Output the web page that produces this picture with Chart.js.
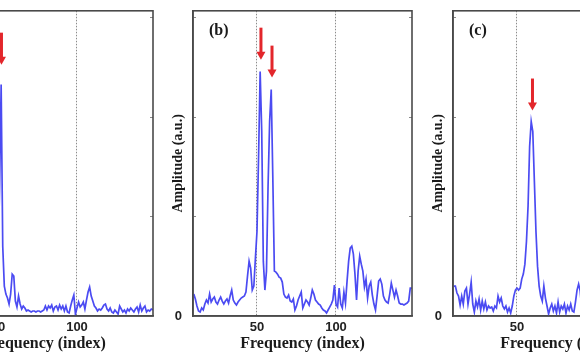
<!DOCTYPE html>
<html>
<head>
<meta charset="utf-8">
<script src="https://cdn.jsdelivr.net/npm/chart.js@4"></script>
<style>
  html, body { margin: 0; padding: 0; background: #fff; overflow: hidden; }
  #wrap { position: relative; width: 580px; height: 359px; overflow: hidden; background: #fff; }
  canvas { position: absolute; top: 0; }
</style>
</head>
<body>
<div id="wrap">
  <canvas id="chartA" width="260" height="359" style="left:-99px"></canvas>
  <canvas id="chartB" width="260" height="359" style="left:160px"></canvas>
  <canvas id="chartC" width="260" height="359" style="left:420px"></canvas>
</div>
<script>
// Spectrum bins 10..148 (frequency index), amplitude in arbitrary units.
const freqIndex = Array.from({ length: 139 }, (_, i) => i + 10);
const xTicks = [50, 100];
const yTicks = [0, 1, 2, 3];

const ampA = [
  0.12, 0.08, 0.10, 0.06, 0.09, 0.11, 0.07, 0.05, 0.08, 0.10,
  0.06, 0.09, 0.12, 0.07, 0.05, 0.08, 0.06, 0.10, 0.09, 0.05,
  0.07, 0.11, 0.08, 0.06, 0.09, 0.12, 0.08, 0.07, 0.10, 0.06,
  0.09, 0.13, 0.10, 0.12, 0.16, 0.14, 0.18, 0.22, 0.20, 0.30,
  0.50, 1.30, 2.32, 0.70, 0.30, 0.22, 0.18, 0.12, 0.22, 0.42,
  0.40, 0.15, 0.09, 0.20, 0.12, 0.07, 0.10, 0.08, 0.05, 0.06,
  0.05, 0.04, 0.05, 0.05, 0.04, 0.05, 0.05, 0.04, 0.05, 0.06,
  0.10, 0.06, 0.10, 0.08, 0.11, 0.05, 0.09, 0.10, 0.06, 0.11,
  0.07, 0.10, 0.05, 0.10, 0.04, 0.03, 0.10, 0.16, 0.21, 0.02,
  0.08, 0.14, 0.09, 0.11, 0.14, 0.07, 0.16, 0.24, 0.29, 0.20,
  0.15, 0.10, 0.08, 0.05, 0.07, 0.06, 0.08, 0.11, 0.12, 0.07,
  0.05, 0.08, 0.04, 0.03, 0.06, 0.04, 0.02, 0.10, 0.07, 0.04,
  0.06, 0.03, 0.07, 0.05, 0.08, 0.06, 0.04, 0.07, 0.09, 0.04,
  0.11, 0.05, 0.08, 0.10, 0.04, 0.06, 0.05, 0.07, 0.06
];
const ampB = [
  0.22, 0.17, 0.10, 0.05, 0.04, 0.08, 0.06, 0.12, 0.16, 0.13,
  0.22, 0.14, 0.17, 0.19, 0.14, 0.12, 0.16, 0.19, 0.15, 0.12,
  0.15, 0.17, 0.13, 0.20, 0.26, 0.16, 0.13, 0.11, 0.14, 0.16,
  0.18, 0.19, 0.20, 0.24, 0.40, 0.55, 0.48, 0.26, 0.30, 0.58,
  0.85, 1.60, 2.45, 1.85, 0.55, 0.26, 0.45, 1.30, 1.95, 2.27,
  1.40, 0.45, 0.44, 0.42, 0.39, 0.38, 0.34, 0.22, 0.19, 0.18,
  0.21, 0.15, 0.14, 0.17, 0.06, 0.10, 0.16, 0.20, 0.24, 0.08,
  0.12, 0.16, 0.14, 0.11, 0.18, 0.26, 0.22, 0.16, 0.14, 0.12,
  0.11, 0.08, 0.06, 0.05, 0.03, 0.06, 0.09, 0.12, 0.16, 0.31,
  0.12, 0.09, 0.28, 0.12, 0.08, 0.24, 0.13, 0.35, 0.55, 0.68,
  0.70, 0.62, 0.42, 0.16, 0.45, 0.60, 0.52, 0.45, 0.29, 0.37,
  0.18, 0.30, 0.34, 0.21, 0.12, 0.06, 0.20, 0.35, 0.37, 0.32,
  0.20, 0.16, 0.14, 0.13, 0.22, 0.33, 0.26, 0.19, 0.26, 0.20,
  0.13, 0.12, 0.12, 0.11, 0.12, 0.13, 0.15, 0.28, 0.28
];
const ampC = [
  0.30, 0.30, 0.23, 0.20, 0.11, 0.20, 0.12, 0.25, 0.28, 0.12,
  0.22, 0.34, 0.12, 0.04, 0.15, 0.09, 0.17, 0.06, 0.15, 0.07,
  0.14, 0.06, 0.10, 0.08, 0.09, 0.05, 0.10, 0.08, 0.20, 0.14,
  0.18, 0.10, 0.07, 0.10, 0.04, 0.08, 0.03, 0.10, 0.20, 0.26,
  0.28, 0.26, 0.28, 0.37, 0.42, 0.52, 0.75, 1.10, 1.70, 1.95,
  1.85, 1.35, 0.85, 0.50, 0.30, 0.20, 0.15, 0.30, 0.18, 0.10,
  0.02, 0.08, 0.12, 0.05, 0.10, 0.03, 0.14, 0.04, 0.10, 0.07,
  0.12, 0.03, 0.10, 0.06, 0.12, 0.05, 0.04, 0.14, 0.26, 0.32,
  0.25, 0.07, 0.11, 0.06, 0.10, 0.08, 0.05, 0.09, 0.12, 0.07,
  0.10, 0.06, 0.08, 0.11, 0.07, 0.09, 0.05, 0.08, 0.10, 0.06,
  0.09, 0.07, 0.05, 0.08, 0.11, 0.06, 0.08, 0.07, 0.10, 0.05,
  0.08, 0.06, 0.09, 0.07, 0.05, 0.08, 0.10, 0.06, 0.07, 0.09,
  0.05, 0.08, 0.06, 0.09, 0.07, 0.10, 0.06, 0.08, 0.05, 0.07,
  0.09, 0.06, 0.08, 0.07, 0.05, 0.08, 0.06, 0.09, 0.07
];

// Red markers: bin where each arrow sits, and the amplitude its tip points at.
const arrowsA = [52.2],       tipsA = [2.52];
const arrowsB = [52.5, 59.5], tipsB = [2.57, 2.39];
const arrowsC = [59.8],       tipsC = [2.06];

// Frame, inward ticks, panel letter and red arrows.
const panelDecor = {
  id: 'panelDecor',
  afterDraw(chart, args, opts) {
    const { ctx, chartArea: a, scales: { x, y } } = chart;
    ctx.save();
    ctx.strokeStyle = '#888'; ctx.lineWidth = 1;
    yTicks.forEach(v => {
      if (!v) return;
      const py = Math.round(y.getPixelForValue(v)) + 0.5;
      ctx.beginPath();
      ctx.moveTo(a.left, py); ctx.lineTo(a.left + 3, py);
      ctx.moveTo(a.right, py); ctx.lineTo(a.right - 3, py);
      ctx.stroke();
    });
    ctx.strokeStyle = '#4a4a4a'; ctx.lineWidth = 1.6;
    ctx.strokeRect(a.left, a.top, a.right - a.left, a.bottom - a.top);

    ctx.fillStyle = '#1a1a1a';
    ctx.font = 'bold 16px "Liberation Serif"';
    ctx.textBaseline = 'alphabetic';
    ctx.fillText(opts.label, a.left + 16, a.top + 24);

    ctx.fillStyle = '#e3262b';
    opts.arrowX.forEach((v, i) => {
      const px = x.getPixelForValue(v), tip = y.getPixelForValue(opts.arrowTip[i]);
      ctx.fillRect(px - 1.5, tip - 32, 3, 25);
      ctx.beginPath();
      ctx.moveTo(px - 4.5, tip - 8); ctx.lineTo(px + 4.5, tip - 8); ctx.lineTo(px, tip);
      ctx.closePath(); ctx.fill();
    });
    ctx.restore();
  }
};

function makePanel(id, amps, label, arrowX, arrowTip) {
  return new Chart(document.getElementById(id), {
    type: 'line',
    data: {
      datasets: [{
        data: amps.map((v, i) => ({ x: freqIndex[i], y: v })),
        borderColor: '#4b4bf2', borderWidth: 1.7,
        pointRadius: 0, tension: 0, fill: false,
      }],
    },
    options: {
      responsive: false, animation: false,
      layout: { padding: { top: 7, right: 8, bottom: 0, left: 0 } },
      plugins: {
        legend: { display: false }, tooltip: { enabled: false },
        panelDecor: { label, arrowX, arrowTip },
      },
      scales: {
        x: {
          type: 'linear', min: 9.5, max: 148.1,
          afterBuildTicks: s => { s.ticks = xTicks.map(v => ({ value: v })); },
          afterFit: s => { s.height = 43; },
          grid: { color: '#8c8c8c', lineWidth: 1, drawTicks: false },
          border: { color: '#4a4a4a', width: 1.6, dash: [1.5, 1.5] },
          ticks: {
            padding: 4, maxRotation: 0, color: '#222',
            font: { family: 'Liberation Sans', size: 13, weight: 'bold' },
          },
          title: {
            display: true, text: 'Frequency (index)', color: '#1a1a1a',
            font: { family: 'Liberation Serif', size: 16, weight: 'bold' },
            padding: { top: 0, bottom: 6 },
          },
        },
        y: {
          min: 0, max: 3.06,
          afterBuildTicks: s => { s.ticks = yTicks.map(v => ({ value: v })); },
          afterFit: s => { s.width = 33; },
          grid: { display: false },
          border: { color: '#4a4a4a', width: 1.6 },
          ticks: {
            padding: 3, color: '#222',
            font: { family: 'Liberation Sans', size: 13, weight: 'bold' },
            callback: v => (v === 0 ? '0' : ''),
          },
          title: {
            display: true, text: 'Amplitude (a.u.)', color: '#1a1a1a',
            font: { family: 'Liberation Serif', size: 14, weight: 'bold' },
            padding: { top: 10, bottom: 0 },
          },
        },
      },
    },
    plugins: [panelDecor],
  });
}

makePanel('chartA', ampA, '(a)', arrowsA, tipsA);
makePanel('chartB', ampB, '(b)', arrowsB, tipsB);
makePanel('chartC', ampC, '(c)', arrowsC, tipsC);
</script>
</body>
</html>
